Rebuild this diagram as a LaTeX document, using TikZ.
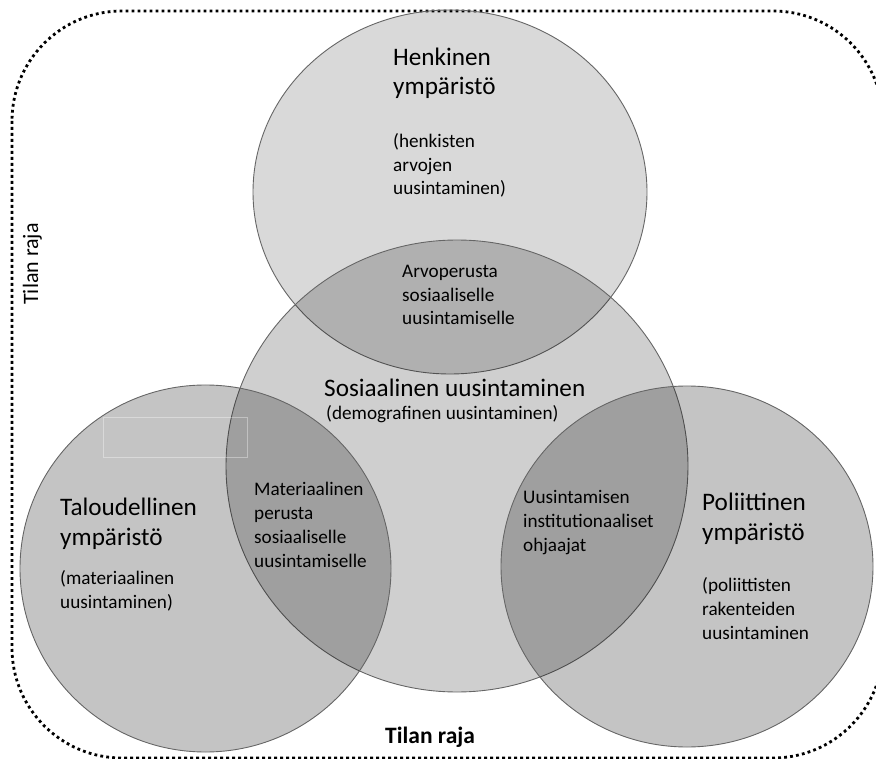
\documentclass[tikz,border=0pt]{standalone}
\usepackage{fontspec}
\setmainfont{Carlito}
\usetikzlibrary{positioning, shapes.geometric}
\tikzset{
    envcircle/.style={
        draw = black!60, ellipse,
        line width = 0.9pt,
        fill = black, fill opacity = 0.2,
        inner sep = 0pt
    },
    bigtext/.style = {
        align = left, inner sep = 0pt,
        anchor = base west,
        font = \fontsize{25.2}{29.5}\selectfont
    },
    smalltext/.style = {
        align = left, inner sep = 0pt,
        anchor = base west,
        font = \fontsize{19.2}{23.8}\selectfont
    },
    border/.style = {
        line width = 2.8pt, line cap = butt,
        dash pattern = on 2.8pt off 3.2pt,
        rounded corners = 110pt
    }
}

\begin{document}
\begin{tikzpicture}[x=1pt, y=-1pt]

                        \useasboundingbox (0,0) rectangle (876,759);

                        % Tilan raja
                        \draw[border] (12,11) rectangle (883,758);

                        % Circles
                        \node[envcircle, fill opacity = 0.15,
                            minimum width = 394pt, minimum height = 364pt] (henk) at (450,192) {};
                        \node[envcircle, fill opacity = 0.19,
                            minimum width = 462pt, minimum height = 452pt] (sos) at (457,466) {};
                        \node[envcircle, fill opacity = 0.23,
                            minimum width = 371pt, minimum height = 367pt] (talo) at (205.5,568.5) {};
                        \node[envcircle, fill opacity = 0.23,
                            minimum width = 372pt, minimum height = 361pt] (poli) at (687,566.5) {};

                        \draw[white, draw opacity = 0.35, line width = 0.8pt] (103,417) rectangle (247,457);

                        % Henkinen (anchored at the last line)
                        \node[bigtext] (henktitle) at (393,95) {Henkinen\\ympäristö};
                        \node[smalltext] (henksub) at (393,195) {(henkisten\\arvojen\\uusintaminen)};

                        % Sosiaalinen
                        \node[bigtext] (sostitle) at (324,397) {Sosiaalinen uusintaminen};
                        \node[smalltext] (sossub) at (326,420) {(demografinen uusintaminen)};

                        % Taloudellinen
                        \node[bigtext] (talotitle) at (60,545) {Taloudellinen\\ympäristö};
                        \node[smalltext] (talosub) at (60,608) {(materiaalinen\\uusintaminen)};

                        % Poliittinen
                        \node[bigtext] (polititle) at (702,540) {Poliittinen\\ympäristö};
                        \node[smalltext] (polisub) at (702,639) {(poliittisten\\rakenteiden\\uusintaminen};

                        % Overlaps
                        \node[smalltext] (arvo) at (402,325) {Arvoperusta\\sosiaaliselle\\uusintamiselle};
                        \node[smalltext] (mater) at (254,567) {Materiaalinen\\perusta\\sosiaaliselle\\uusintamiselle};
                        \node[smalltext] (instit) at (523,551) {Uusintamisen\\institutionaaliset\\ohjaajat};

                        % Labels
                        \node[font = \fontsize{23.5}{27}\selectfont\bfseries, inner sep = 0pt,
                            anchor = base west] (rajabottom) at (385,743) {Tilan raja};
                        \node[font = \fontsize{22}{26}\selectfont, inner sep = 0pt,
                            rotate = 90, anchor = base] (rajaleft) at (38,264) {Tilan raja};

                    \end{tikzpicture}
\end{document}
